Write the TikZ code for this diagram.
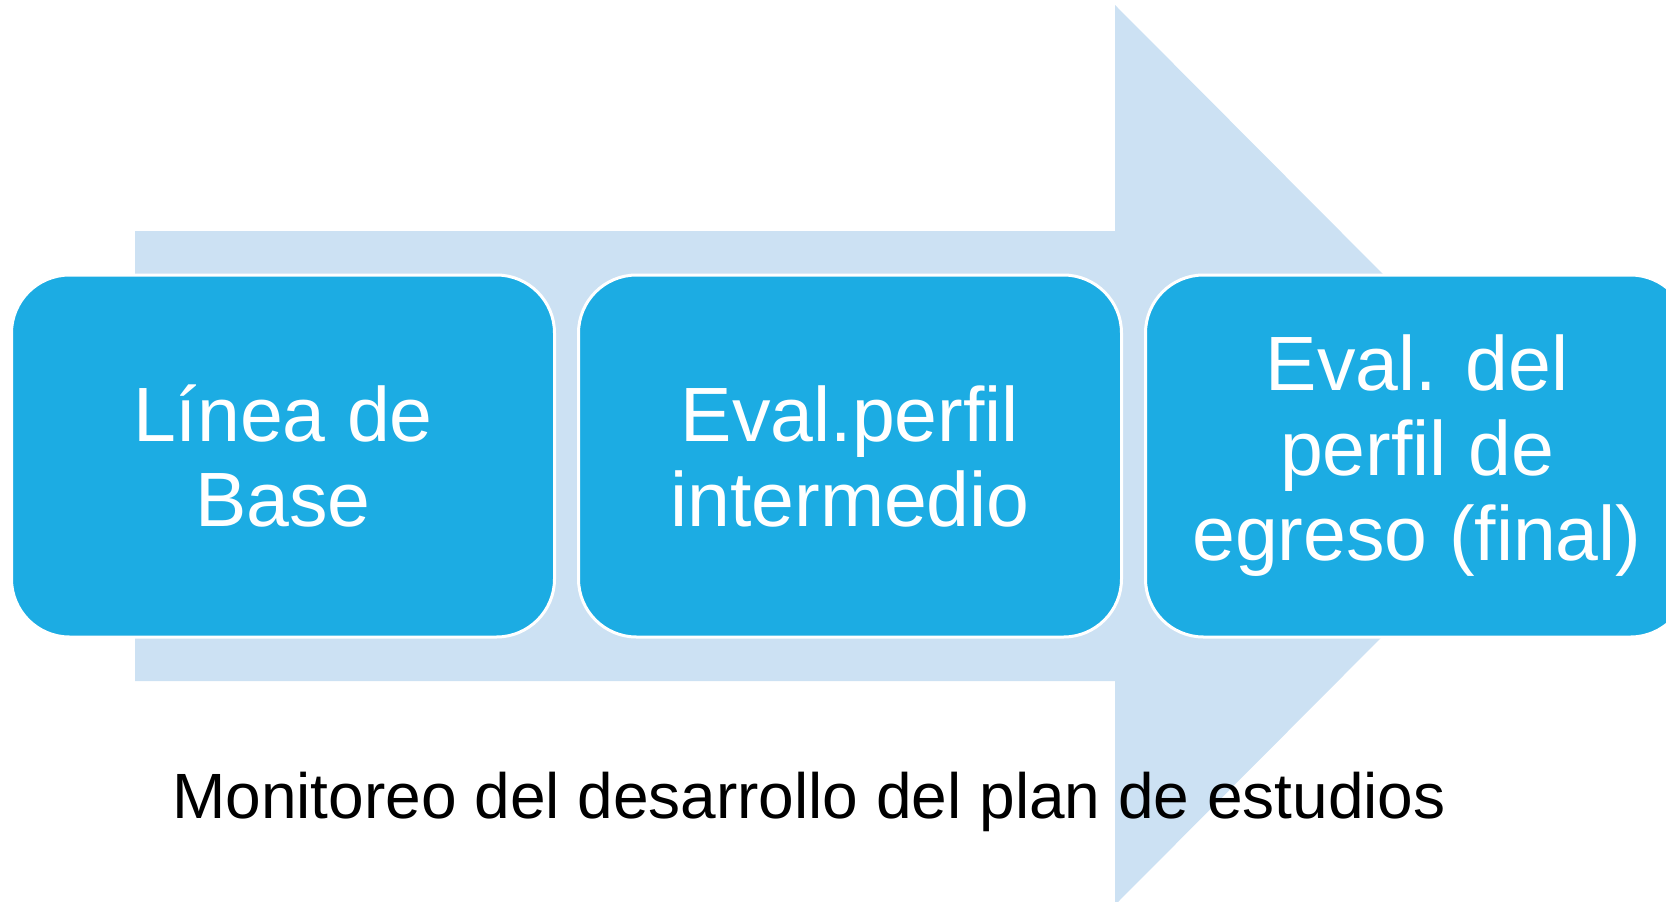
\documentclass[tikz,border=0pt]{standalone}
\usepackage{fontspec}
\setmainfont{Liberation Sans}
\usetikzlibrary{positioning}
\definecolor{stagefill}{RGB}{28,172,227}
\definecolor{arrowfill}{RGB}{204,225,243}
\tikzset{
stage/.style={
	  draw=white, line width=3pt, fill=stagefill, rounded corners=58pt,
	    minimum width=543pt, minimum height=362pt, align=center,
    text=white, font=\fontsize{77}{85}\selectfont}
}

\begin{document}
\begin{tikzpicture}[x=1pt, y=-1pt, node distance=21pt]
	\clip (0,0) rectangle (1666,902);
	\fill[arrowfill] (135,231) -- (1115,231) -- (1115,5) -- (1563,455)
		-- (1115,905) -- (1115,681) -- (135,681) -- cycle;
	\node[stage] (base) at (283,456) {Línea de\\Base};
	\node[stage, right=of base] (inter) {Eval.perfil\\intermedio};
	\node[stage, right=of inter] (final) {Eval. del\\perfil de\\egreso (final)};
	\node[anchor=base, font=\fontsize{64}{72}\selectfont] (monitor) at (809,818)
		{Monitoreo del desarrollo del plan de estudios};
\end{tikzpicture}
\end{document}
